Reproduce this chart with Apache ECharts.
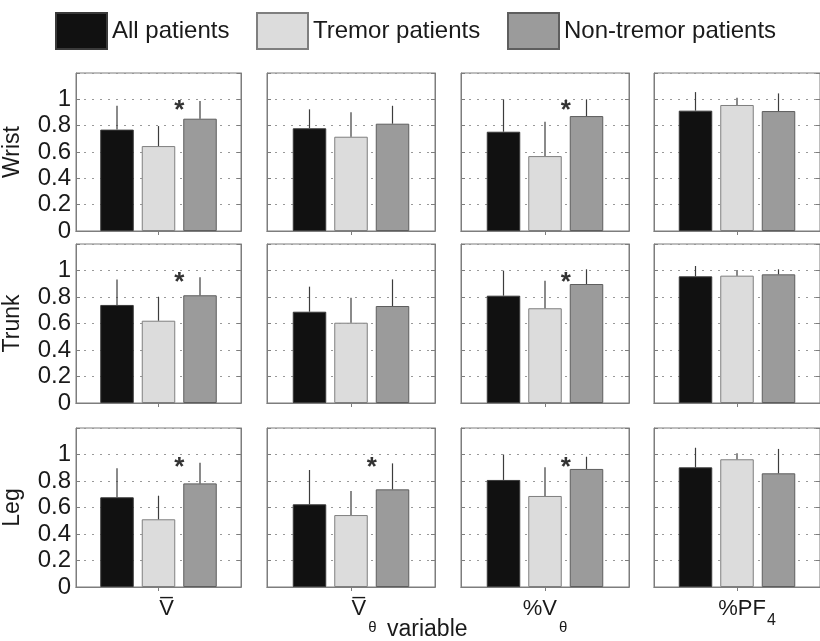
<!DOCTYPE html>
<html><head><meta charset="utf-8">
<script src="https://cdn.jsdelivr.net/npm/echarts@6.0.0/dist/echarts.min.js"></script>
<style>html,body{margin:0;padding:0;background:#fff;overflow:hidden}#chart{width:820px;height:641px}</style>
</head><body><div id="chart"></div>
<script>
// ---------- data ----------
const groupNames = ['All patients', 'Tremor patients', 'Non-tremor patients'];
const rowNames = ['Wrist', 'Trunk', 'Leg'];
const variableLabels = ['{a|V\u0305}', '{b|V\u0305}{s|\u03b8}', '{t|%V}{s|\u03b8}', '{p|%PF}{n|4}'];
const xAxisTitle = 'variable';
const yMin = 0, yMax = 1.2, yStep = 0.2;

// bar heights: per variable [all, tremor, non-tremor]
const wristMean = [[0.77, 0.645, 0.853], [0.78, 0.716, 0.815], [0.754, 0.569, 0.873], [0.914, 0.957, 0.911]];
const trunkMean = [[0.74, 0.621, 0.813], [0.689, 0.606, 0.732], [0.81, 0.715, 0.898], [0.956, 0.961, 0.971]];
const legMean   = [[0.677, 0.511, 0.782], [0.624, 0.543, 0.737], [0.808, 0.687, 0.891], [0.903, 0.964, 0.858]];
// upper end of the error bars
const wristErrTop = [[0.951, 0.797, 0.987], [0.924, 0.901, 0.951], [1.0, 0.83, 1.0], [1.055, 1.012, 1.045]];
const trunkErrTop = [[0.933, 0.802, 0.949], [0.878, 0.795, 0.933], [0.999, 0.923, 1.009], [1.034, 1.004, 1.009]];
const legErrTop   = [[0.896, 0.689, 0.938], [0.883, 0.725, 0.933], [1.0, 0.903, 0.983], [1.051, 1.009, 1.042]];
// significance asterisk level (null = none)
const wristStar = [0.96, null, 0.955, null];
const trunkStar = [0.95, null, 0.955, null];
const legStar   = [0.945, 0.945, 0.945, null];

// ---------- layout / style ----------
const FONT = '"Liberation Sans", Arial, Helvetica, sans-serif';
const L = { colLeft: [73, 267, 461, 654], rowTop: [73, 244, 428], w: 168, h: [158, 159, 159], barW: 33.5, gap: 8 };
const fills = ['#111111', '#dcdcdc', '#9b9b9b'];
const strokes = ['#3a3a3a', '#7f7f7f', '#5e5e5e'];
const frame = '#7d7d7d';
const textCol = '#1a1a1a';

const rowMeans = [wristMean, trunkMean, legMean];
const rowErrTops = [wristErrTop, trunkErrTop, legErrTop];
const rowStars = [wristStar, trunkStar, legStar];

const rich = {
  a: { fontSize: 22, lineHeight: 24, verticalAlign: 'top', padding: [0, 0, 0, 16], fontFamily: FONT, color: textCol },
  b: { fontSize: 22, lineHeight: 24, verticalAlign: 'top', padding: [0, 0, 0, 26], fontFamily: FONT, color: textCol },
  t: { fontSize: 22, lineHeight: 24, verticalAlign: 'top', fontFamily: FONT, color: textCol },
  p: { fontSize: 22, lineHeight: 24, verticalAlign: 'top', padding: [0, 0, 0, 20], fontFamily: FONT, color: textCol },
  s: { fontSize: 15, lineHeight: 15, verticalAlign: 'top', padding: [22, 0, 0, 2], fontFamily: FONT, color: textCol },
  n: { fontSize: 16, lineHeight: 16, verticalAlign: 'top', padding: [15, 0, 0, 1], fontFamily: FONT, color: textCol }
};

function errRender(params, api) {
  const k = api.value(3);
  const base = api.coord([api.value(0), api.value(1)]);
  const top = api.coord([api.value(0), api.value(2)]);
  const dx = (k - 1) * (L.barW + L.gap);
  return { type: 'line', shape: { x1: base[0] + dx, y1: base[1], x2: base[0] + dx, y2: top[1] },
           style: { stroke: '#3c3c3c', lineWidth: 1.2 } };
}
function starRender(params, api) {
  const p = api.coord([api.value(0), api.value(1)]);
  return { type: 'text', style: { text: '*', x: p[0] + 0.5 * (L.barW + L.gap), y: p[1] + 6,
           fontSize: 26, fontWeight: 'bold', fontFamily: FONT, fill: '#333', align: 'center', verticalAlign: 'middle' } };
}

const grid = [], xAxis = [], yAxis = [], series = [];
const xTop = [], yRight = [];
let gi = 0;
for (let r = 0; r < 3; r++) {
  for (let c = 0; c < 4; c++) {
    grid.push({ left: L.colLeft[c], top: L.rowTop[r], width: L.w, height: L.h[r], show: true,
                borderColor: frame, borderWidth: 1, backgroundColor: '#fff' });
    xAxis.push({ gridIndex: gi, type: 'category', data: [variableLabels[c]],
      axisTick: { show: false }, axisLine: { show: true, lineStyle: { color: frame } },
      axisLabel: { show: r === 2, margin: 11, rich: rich, color: textCol } });
    xTop.push({ gridIndex: gi, type: 'category', position: 'top', data: [variableLabels[c]],
      axisTick: { show: true, inside: true, length: 4, alignWithLabel: true, lineStyle: { color: frame } },
      axisLine: { show: true, lineStyle: { color: frame } }, axisLabel: { show: false } });
    yAxis.push({ gridIndex: gi, type: 'value', min: yMin, max: yMax, interval: yStep,
      name: c === 0 ? rowNames[r] : '', nameLocation: 'middle', nameRotate: 90, nameGap: 52,
      nameTextStyle: { fontSize: 23, color: textCol, fontFamily: FONT },
      axisLine: { show: true, lineStyle: { color: frame } },
      axisTick: { show: true, inside: true, length: 4, lineStyle: { color: frame } },
      axisLabel: { show: c === 0, margin: 5, fontSize: 24, color: textCol, fontFamily: FONT,
        formatter: v => (v > 1.0001 ? '' : String(+v.toFixed(1))) },
      splitLine: { show: true, lineStyle: { type: [2, 6], color: '#999', width: 1 } } });
    yRight.push({ gridIndex: gi, type: 'value', position: 'right', min: yMin, max: yMax, interval: yStep,
      axisLine: { show: true, lineStyle: { color: frame } },
      axisTick: { show: true, inside: true, length: 4, lineStyle: { color: frame } },
      axisLabel: { show: false }, splitLine: { show: false } });
    for (let k = 0; k < 3; k++) {
      series.push({ type: 'bar', name: groupNames[k], xAxisIndex: gi, yAxisIndex: gi,
        data: [rowMeans[r][c][k]], barWidth: L.barW, barGap: (L.gap / L.barW * 100) + '%',
        itemStyle: { color: fills[k], borderColor: strokes[k], borderWidth: 1 },
        emphasis: { disabled: true }, z: 2 });
    }
    series.push({ type: 'custom', xAxisIndex: gi, yAxisIndex: gi, z: 3,
      data: [0, 1, 2].map(k => [0, rowMeans[r][c][k], rowErrTops[r][c][k], k]),
      renderItem: errRender });
    if (rowStars[r][c] != null) {
      series.push({ type: 'custom', xAxisIndex: gi, yAxisIndex: gi, z: 4,
        data: [[0, rowStars[r][c]]], renderItem: starRender });
    }
    gi++;
  }
}

const legendLeft = [55, 256, 507];
const legend = groupNames.map((n, k) => ({
  data: [n], left: legendLeft[k], top: 12, padding: 0, itemWidth: 51, itemHeight: 36, icon: 'rect',
  selectedMode: false, textStyle: { fontSize: 24, color: textCol, fontFamily: FONT }
}));

const chart = echarts.init(document.getElementById('chart'), null, { renderer: 'canvas' });
chart.setOption({
  animation: false,
  backgroundColor: '#fff',
  textStyle: { fontFamily: FONT },
  legend: legend,
  grid: grid, xAxis: xAxis.concat(xTop), yAxis: yAxis.concat(yRight), series: series,
  graphic: [{ type: 'text', left: 387, top: 618,
    style: { text: xAxisTitle, fontSize: 23, fill: textCol, fontFamily: FONT } }]
});
</script></body></html>
